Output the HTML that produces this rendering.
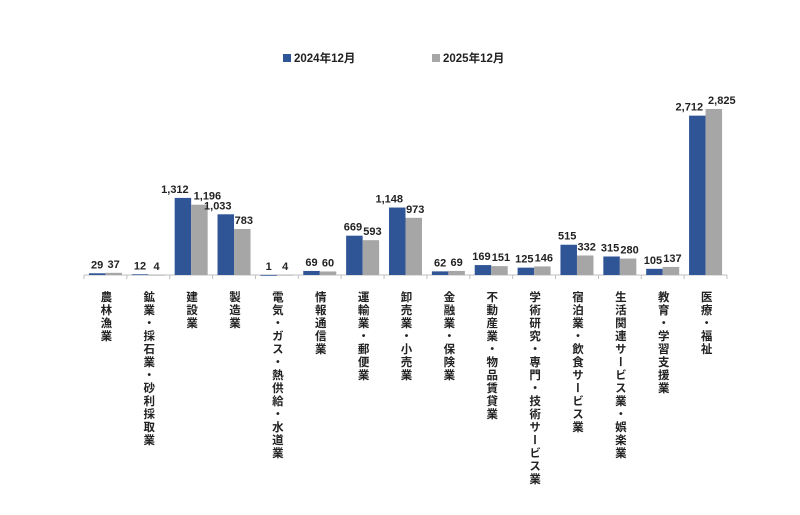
<!DOCTYPE html>
<html><head><meta charset="utf-8"><style>
body{margin:0;background:#fff;}
svg text{font-family:"Liberation Sans","Noto Sans CJK JP",sans-serif;font-weight:bold;}
</style></head><body>
<svg id="c" width="800" height="510">
<g>
<rect x="283" y="54" width="8" height="8" fill="#2F5597"/>
<text x="294" y="62" font-size="11.5" fill="#222">2024年12月</text>
<rect x="432" y="54" width="8" height="8" fill="#A6A6A6"/>
<text x="443" y="62" font-size="11.5" fill="#222">2025年12月</text>
</g>
</svg>
<script>
const categories=["農林漁業","鉱業・採石業・砂利採取業","建設業","製造業","電気・ガス・熱供給・水道業","情報通信業","運輸業・郵便業","卸売業・小売業","金融業・保険業","不動産業・物品賃貸業","学術研究・専門・技術サービス業","宿泊業・飲食サービス業","生活関連サービス業・娯楽業","教育・学習支援業","医療・福祉"];
const series2024=[29,12,1312,1033,1,69,669,1148,62,169,125,515,315,105,2712];
const series2025=[37,4,1196,783,4,60,593,973,69,151,146,332,280,137,2825];
const svg=document.getElementById('c');
const NS='http://www.w3.org/2000/svg';
const x0=84,x1=727,base=275,scale=166/2825;
const step=(x1-x0)/categories.length;
const xc=i=>x0+step*(i+0.5);
const y=v=>base-v*scale;
function mk(t,a){const e=document.createElementNS(NS,t);for(const k in a)e.setAttribute(k,a[k]);svg.appendChild(e);return e;}
const ax=mk('line',{x1:x0,x2:x1,y1:base,y2:base,stroke:'#bfbfbf','stroke-width':1});


for(let i=0;i<=categories.length;i++){
 const t=mk('line',{x1:x0+step*i,x2:x0+step*i,y1:base,y2:base+4,stroke:'#bfbfbf'});
 
 
}
const fmt=v=>v.toLocaleString('en-US');
categories.forEach((c,i)=>{
 const cx=xc(i),bw=16.5;
 [[series2024,'#2F5597',cx-bw,'2024',-1],[series2025,'#A6A6A6',cx,'2025',1]].forEach(([s,col,bx,nm,dir])=>{
  const v=s[i];
  const r=mk('rect',{x:bx,y:y(v),width:bw,height:Math.max(v*scale,0.8),fill:col});
  
  
  const txt=fmt(v);
  const off=txt.length>=5?dir*8:(txt.length==3?dir*1.5:0);
  const t=mk('text',{x:bx+bw/2+off,y:y(v)-5,'font-size':11,'text-anchor':'middle',fill:'#222'});
  t.textContent=txt;
  
  
 });
 const lb=mk('text',{x:cx,y:291,'font-size':11.5,fill:'#222','writing-mode':'vertical-rl','letter-spacing':'1.5'});
 lb.style.writingMode='vertical-rl';
 lb.textContent=c;
 
 
});
</script>
</body></html>
